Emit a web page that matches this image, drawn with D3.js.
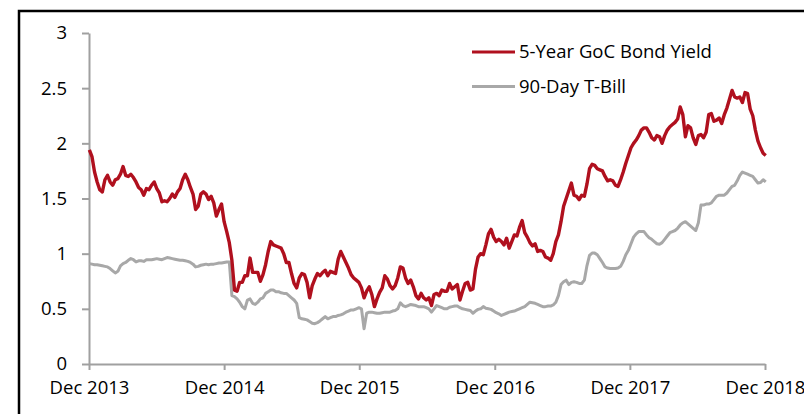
<!DOCTYPE html>
<html>
<head>
<meta charset="utf-8">
<script src="https://cdn.jsdelivr.net/npm/d3@7"></script>
<style>
  html, body { margin: 0; padding: 0; background: #fff; }
  svg text { font-family: "Open Sans", sans-serif; fill: #000; }
</style>
</head>
<body>
<div id="chart"></div>
<script>
// weekly readings, one per Monday from 2 Dec 2013 to 3 Dec 2018
var bondYield = [
  1.94, 1.88, 1.74, 1.65, 1.58, 1.56, 1.67, 1.71, 1.65, 1.62,
  1.67, 1.68, 1.72, 1.79, 1.71, 1.70, 1.72, 1.69, 1.65, 1.60,
  1.58, 1.53, 1.59, 1.58, 1.62, 1.65, 1.59, 1.55, 1.47, 1.48,
  1.47, 1.50, 1.54, 1.51, 1.56, 1.59, 1.67, 1.72, 1.67, 1.60,
  1.54, 1.40, 1.43, 1.54, 1.56, 1.54, 1.49, 1.52, 1.46, 1.34,
  1.40, 1.45, 1.29, 1.20, 1.10, 0.94, 0.67, 0.66, 0.74, 0.74,
  0.80, 0.80, 0.96, 0.83, 0.83, 0.83, 0.75, 0.81, 0.90, 1.02,
  1.11, 1.08, 1.07, 1.06, 1.05, 1.00, 0.92, 0.92, 0.82, 0.73,
  0.69, 0.78, 0.82, 0.81, 0.74, 0.60, 0.71, 0.77, 0.82, 0.80,
  0.83, 0.85, 0.80, 0.84, 0.83, 0.82, 0.95, 1.02, 0.97, 0.92,
  0.87, 0.81, 0.78, 0.76, 0.74, 0.69, 0.60, 0.66, 0.70, 0.63,
  0.52, 0.59, 0.65, 0.69, 0.80, 0.77, 0.71, 0.68, 0.71, 0.78,
  0.88, 0.87, 0.78, 0.73, 0.76, 0.70, 0.62, 0.59, 0.64, 0.60,
  0.58, 0.60, 0.53, 0.63, 0.64, 0.62, 0.67, 0.66, 0.66, 0.73,
  0.68, 0.70, 0.72, 0.58, 0.66, 0.73, 0.74, 0.67, 0.68, 0.86,
  0.97, 1.00, 0.99, 1.08, 1.18, 1.22, 1.15, 1.11, 1.13, 1.11,
  1.08, 1.14, 1.05, 1.11, 1.17, 1.16, 1.24, 1.30, 1.19, 1.15,
  1.10, 1.07, 1.09, 1.02, 1.03, 1.02, 0.97, 0.96, 0.94, 1.00,
  1.11, 1.17, 1.29, 1.43, 1.50, 1.57, 1.64, 1.53, 1.52, 1.49,
  1.53, 1.52, 1.63, 1.77, 1.81, 1.80, 1.77, 1.76, 1.75, 1.70,
  1.66, 1.67, 1.66, 1.62, 1.61, 1.67, 1.74, 1.82, 1.89, 1.96,
  2.00, 2.03, 2.07, 2.12, 2.14, 2.14, 2.10, 2.05, 2.03, 2.07,
  2.06, 2.00, 2.07, 2.12, 2.15, 2.17, 2.19, 2.22, 2.33, 2.26,
  2.06, 2.16, 2.14, 2.05, 1.99, 2.07, 2.08, 2.05, 2.10, 2.26,
  2.27, 2.20, 2.21, 2.23, 2.18, 2.26, 2.32, 2.40, 2.48, 2.42,
  2.41, 2.42, 2.37, 2.46, 2.45, 2.31, 2.25, 2.12, 2.02, 1.96,
  1.91, 1.89
];

var tBill = [
  0.910, 0.905, 0.900, 0.900, 0.895, 0.890, 0.885, 0.880, 0.865, 0.845,
  0.825, 0.840, 0.890, 0.910, 0.920, 0.940, 0.955, 0.945, 0.925, 0.935,
  0.935, 0.930, 0.945, 0.945, 0.945, 0.950, 0.955, 0.950, 0.945, 0.955,
  0.965, 0.960, 0.955, 0.950, 0.945, 0.940, 0.940, 0.935, 0.930, 0.920,
  0.905, 0.880, 0.885, 0.895, 0.900, 0.905, 0.900, 0.905, 0.905, 0.910,
  0.915, 0.915, 0.920, 0.925, 0.925, 0.620, 0.610, 0.590, 0.560, 0.520,
  0.500, 0.580, 0.590, 0.550, 0.540, 0.560, 0.590, 0.600, 0.640, 0.655,
  0.670, 0.670, 0.655, 0.655, 0.645, 0.640, 0.640, 0.620, 0.600, 0.580,
  0.550, 0.420, 0.410, 0.405, 0.400, 0.385, 0.370, 0.365, 0.375, 0.390,
  0.410, 0.430, 0.410, 0.420, 0.430, 0.430, 0.440, 0.445, 0.455, 0.470,
  0.480, 0.490, 0.490, 0.500, 0.510, 0.500, 0.320, 0.460, 0.470, 0.470,
  0.465, 0.460, 0.460, 0.465, 0.470, 0.470, 0.470, 0.480, 0.485, 0.500,
  0.555, 0.530, 0.520, 0.530, 0.540, 0.535, 0.530, 0.520, 0.520, 0.520,
  0.510, 0.500, 0.470, 0.500, 0.530, 0.520, 0.510, 0.500, 0.500, 0.515,
  0.520, 0.525, 0.525, 0.510, 0.500, 0.495, 0.490, 0.485, 0.460, 0.480,
  0.495, 0.500, 0.520, 0.505, 0.500, 0.495, 0.480, 0.465, 0.455, 0.440,
  0.450, 0.460, 0.470, 0.475, 0.480, 0.490, 0.500, 0.510, 0.520, 0.540,
  0.560, 0.555, 0.550, 0.540, 0.530, 0.520, 0.520, 0.525, 0.525, 0.535,
  0.560, 0.620, 0.720, 0.745, 0.760, 0.720, 0.740, 0.745, 0.740, 0.730,
  0.730, 0.760, 0.890, 0.985, 1.005, 1.005, 0.990, 0.955, 0.920, 0.880,
  0.870, 0.865, 0.865, 0.865, 0.870, 0.885, 0.930, 0.990, 1.030, 1.090,
  1.150, 1.180, 1.200, 1.200, 1.200, 1.170, 1.145, 1.130, 1.110, 1.090,
  1.085, 1.100, 1.130, 1.160, 1.190, 1.200, 1.210, 1.230, 1.260, 1.280,
  1.290, 1.270, 1.250, 1.230, 1.210, 1.280, 1.440, 1.440, 1.450, 1.450,
  1.460, 1.490, 1.520, 1.530, 1.530, 1.530, 1.550, 1.580, 1.610, 1.620,
  1.660, 1.710, 1.740, 1.730, 1.720, 1.710, 1.700, 1.670, 1.640, 1.645,
  1.670, 1.650
];

var seriesNames = ["5-Year GoC Bond Yield", "90-Day T-Bill"];
var seriesColors = ["#b0101e", "#a8a8a8"];
var yTicks = [0, 0.5, 1, 1.5, 2, 2.5, 3];
var xTickYears = [2013, 2014, 2015, 2016, 2017, 2018];

var dates = d3.timeMonday.range(new Date(2013, 11, 2), new Date(2018, 11, 4));

var svgWidth = 804, svgHeight = 414;
var svg = d3.select("#chart").append("svg")
  .attr("width", svgWidth).attr("height", svgHeight);

// black frame, open at right and bottom
svg.append("path")
  .attr("d", "M19,414V11H804")
  .attr("fill", "none").attr("stroke", "#000").attr("stroke-width", 2.5);

var x = d3.scaleTime()
  .domain([new Date(2013, 11, 1), new Date(2018, 11, 1)])
  .range([89, 765]);
var y = d3.scaleLinear().domain([0, 3]).range([364, 33]);

var xAxis = d3.axisBottom(x)
  .tickValues(xTickYears.map(yr => new Date(yr, 11, 1)))
  .tickFormat(d3.timeFormat("Dec %Y"))
  .tickSize(6).tickSizeOuter(0).tickPadding(11);

var yAxis = d3.axisLeft(y)
  .tickValues(yTicks)
  .tickFormat(d => String(d))
  .tickSize(7).tickSizeOuter(0).tickPadding(15);

function styleAxis(g) {
  g.select(".domain").attr("stroke", "#a0a0a0").attr("stroke-width", 2);
  g.selectAll(".tick line").attr("stroke", "#a0a0a0").attr("stroke-width", 2);
  g.selectAll(".tick text").attr("fill", "#000")
    .style("font-size", "18.5px").style("font-family", "'Open Sans', sans-serif");
}

svg.append("g").attr("transform", "translate(0,364)").call(xAxis).call(styleAxis);
svg.append("g").attr("transform", "translate(89,0)").call(yAxis).call(styleAxis);

var line = d3.line()
  .x((d, i) => x(dates[i]))
  .y(d => y(d));

svg.append("path").datum(tBill)
  .attr("d", line)
  .attr("fill", "none").attr("stroke", seriesColors[1])
  .attr("stroke-width", 3).attr("stroke-linejoin", "round");

svg.append("path").datum(bondYield)
  .attr("d", line)
  .attr("fill", "none").attr("stroke", seriesColors[0])
  .attr("stroke-width", 3.4).attr("stroke-linejoin", "round");

// legend
var legend = svg.append("g").attr("transform", "translate(472,52)");
seriesNames.forEach(function(name, i) {
  var row = legend.append("g").attr("transform", `translate(0, ${i * 34.5})`);
  row.append("line").attr("x1", 0).attr("x2", 43).attr("y1", 0).attr("y2", 0)
    .attr("stroke", seriesColors[i]).attr("stroke-width", 3);
  row.append("text").attr("x", 47).attr("y", 6)
    .style("font-size", "18.5px").text(name);
});
</script>
</body>
</html>
